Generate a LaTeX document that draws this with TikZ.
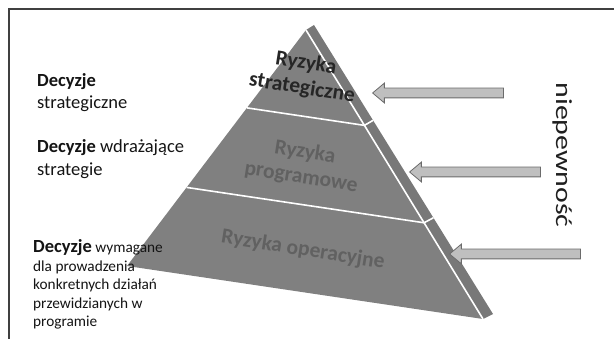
\documentclass[tikz,border=0pt]{standalone}
\usepackage{fontspec}
\setmainfont{Carlito}
\usetikzlibrary{shapes.arrows,calc}

\begin{document}
\begin{tikzpicture}[x=1pt, y=-1pt,
    sep/.style={white, line width=1.6pt},
    uarrow/.style={single arrow, draw=black!58, fill=black!25, line width=0.8pt,
        shape border rotate=180, minimum width=19pt, inner sep=4.5pt,
        single arrow head extend=5pt, single arrow tip angle=80,
        minimum height=131pt},
    lvl/.style={font=\fontsize{21.5}{25}\selectfont\bfseries, align=center,
        rotate=-9, text=black!62, inner sep=0pt},
    dec/.style={anchor=base west, align=left, inner sep=0pt, text=black!92}]
    \useasboundingbox (0,0) rectangle (614,339);
    \draw[black!75, line width=1.2pt] (9,339) -- (9,9) -- (614,9);

    \coordinate (A) at (306,30);
    \coordinate (T) at (314,25);
    \coordinate (L) at (127,266);
    \coordinate (R) at (483,319);
    \coordinate (S) at (493,314);

    \fill[black!50] (A) -- (L) -- (R) -- cycle;
    \fill[black!53] (A) -- (T) -- (S) -- (R) -- cycle;
    \draw[sep] (A) -- (R);
    \draw[sep] ($(A)!0.33!(L)$) -- ($(A)!0.33!(R)$) -- ($(T)!0.33!(S)$);
    \draw[sep] ($(A)!0.667!(L)$) -- ($(A)!0.667!(R)$) -- ($(T)!0.667!(S)$);

    \node[lvl, text=black!85] (rs) at (304,76) {Ryzyka\\strategiczne};
    \node[lvl] (rp) at (303,165) {Ryzyka\\programowe};
    \node[lvl] (ro) at (303,250) {Ryzyka operacyjne};

    % base anchor sits on the last line
    \node[dec, font=\fontsize{18.5}{22.3}\selectfont] (d1) at (37,109)
        {\textbf{Decyzje}\\strategiczne};
    \node[dec, font=\fontsize{18.5}{23}\selectfont] (d2) at (37,176)
        {\textbf{Decyzje} wdrażające\\strategie};
    \node[dec, font=\fontsize{15.3}{18.6}\selectfont] (d3) at (33,327)
        {{\fontsize{18.5}{18.6}\selectfont\textbf{Decyzje}} wymagane\\dla prowadzenia\\
         konkretnych działań\\przewidzianych w\\programie};

    \node[rotate=-90, font=\fontsize{23}{23}\selectfont, text=black!88] (np) at (563,155)
        {\scalebox{1.3}[1]{niepewność}};

    \node[uarrow] (u1) at (441,93) {};
    \node[uarrow] (u2) at (478,172) {};
    \node[uarrow] (u3) at (518,254) {};
\end{tikzpicture}
\end{document}
